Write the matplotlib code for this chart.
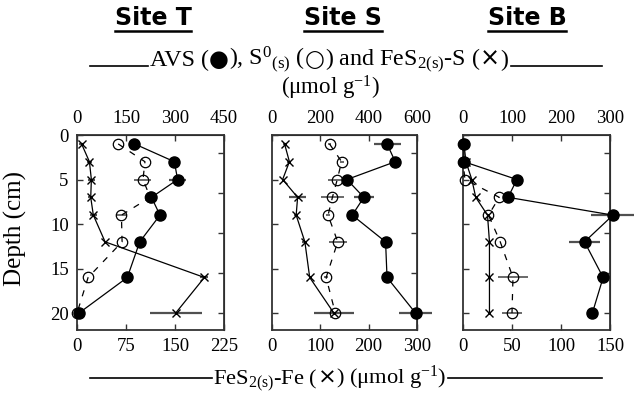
import numpy as np
import matplotlib.pyplot as plt
from matplotlib.lines import Line2D

plt.rcParams['font.family'] = ['Liberation Serif', 'DejaVu Serif']
plt.rcParams['mathtext.fontset'] = 'custom'
plt.rcParams['mathtext.rm'] = 'Liberation Serif'
plt.rcParams['mathtext.it'] = 'Liberation Serif'
plt.rcParams['mathtext.default'] = 'regular'

sites = ['Site T', 'Site S', 'Site B']
depth = [1, 3, 5, 7, 9, 12, 16, 20]

# values in FeS2-Fe units (bottom axis); top axis reads twice these
avs_t = [88, 149, 154, 114, 127, 96, 77, 3]
avs_t_err = [0, 0, 13, 6, 6, 0, 0, 0]
s0_t = [63, 104, 101, 112, 68, 69, 17, 0]
s0_t_err = [0, 0, 13, 0, 8, 0, 0, 0]
fes2_t = [7, 19, 22, 21, 25, 43, 195, 151]
fes2_t_err = [4, 4, 5, 4, 5, 0, 6, 40]

avs_s = [238, 255, 155, 190, 166, 235, 238, 297]
avs_s_err = [28, 10, 0, 21, 0, 0, 4, 35]
s0_s = [119, 144, 135, 125, 116, 136, 112, 131]
s0_s_err = [3, 4, 19, 24, 4, 19, 4, 4]
fes2_s = [26, 36, 22, 53, 50, 68, 78, 128]
fes2_s_err = [4, 4, 0, 17, 4, 5, 0, 41]

avs_b = [1, 1, 55, 46, 153, 124, 143, 132]
avs_b_err = [0, 0, 0, 0, 22, 16, 6, 0]
s0_b = [0, 0, 2, 37, 26, 38, 51, 50]
s0_b_err = [0, 0, 0, 0, 0, 0, 15, 10]
fes2_b = [1, 3, 9, 13, 25, 27, 27, 27]
fes2_b_err = [0, 0, 0, 0, 0, 0, 0, 0]

bottom_ticks = [[0, 75, 150, 225], [0, 100, 200, 300], [0, 50, 100, 150]]
top_ticks = [[0, 150, 300, 450], [0, 200, 400, 600], [0, 100, 200, 300]]
depth_ticks = [0, 5, 10, 15, 20]
right_ticks = [2, 6.5, 11, 15.5, 20]

panels = [
    (avs_t, avs_t_err, s0_t, s0_t_err, fes2_t, fes2_t_err),
    (avs_s, avs_s_err, s0_s, s0_s_err, fes2_s, fes2_s_err),
    (avs_b, avs_b_err, s0_b, s0_b_err, fes2_b, fes2_b_err),
]

W, H = 634, 395
fig = plt.figure(figsize=(W / 100, H / 100), dpi=100)

lefts = [77, 272, 463]
widths = [147, 145, 147]
ax_top, ax_bot = 135, 330
title_x = [153, 343, 527]
ecol = '#505050'
fs = 13.5

titles = []
for i, (avs, avs_e, s0, s0_e, fes2, fes2_e) in enumerate(panels):
    ax = fig.add_axes([lefts[i] / W, 1 - ax_bot / H, widths[i] / W, (ax_bot - ax_top) / H])
    ax.errorbar(avs, depth, xerr=avs_e, fmt='none', ecolor=ecol, elinewidth=1.6, zorder=2, clip_on=False)
    ax.errorbar(s0, depth, xerr=s0_e, fmt='none', ecolor=ecol, elinewidth=1.2, zorder=2, clip_on=False)
    ax.errorbar(fes2, depth, xerr=fes2_e, fmt='none', ecolor=ecol, elinewidth=1.6, zorder=2, clip_on=False)
    ax.plot(avs, depth, '-', color='black', lw=0.9, marker='o', ms=8, mfc='black', mec='black',
            zorder=4, clip_on=False)
    ax.plot(s0, depth, color='black', lw=0.9, ls=(0, (5, 6)), marker='o', ms=7.5, mfc='none',
            mec='black', mew=0.9, zorder=3, clip_on=False)
    ax.plot(fes2, depth, '-', color='black', lw=0.9, marker='x', ms=6, mec='black', mew=1,
            zorder=3, clip_on=False)

    ax.set_xlim(0, bottom_ticks[i][-1])
    ax.set_ylim(21.9, 0)
    ax.set_xticks(bottom_ticks[i])
    ax.set_yticks(depth_ticks)
    ax.tick_params(direction='in', length=4, width=1, labelsize=fs, pad=6, colors='#333333',
                   labelcolor='black')
    if i > 0:
        ax.set_yticklabels([])
    for sp in ax.spines.values():
        sp.set_color('#333333')
        sp.set_linewidth(1.3)

    sec = ax.secondary_xaxis('top', functions=(lambda x: 2 * x, lambda x: x / 2))
    sec.set_xticks(top_ticks[i])
    sec.tick_params(direction='in', length=4, width=1, labelsize=fs, pad=6, colors='#333333',
                    labelcolor='black')
    secr = ax.secondary_yaxis('right')
    secr.set_yticks(right_ticks)
    secr.tick_params(direction='in', length=4, width=1, labelright=False, colors='#333333')

    t = fig.text(title_x[i] / W, 1 - 18 / H, sites[i], ha='center', va='center',
                 family='DejaVu Sans', weight='bold', fontsize=17)
    titles.append(t)

renderer = fig.canvas.get_renderer()


def place_pieces(pieces, x_center, y_base, size):
    # lay out text pieces side by side, then shift so the run is centred
    arts = []
    x = 0
    for s, fam, k in pieces:
        a = fig.text(x / W, 1 - y_base / H, s, ha='left', va='baseline',
                     family=fam, fontsize=size * k)
        bb = a.get_window_extent(renderer)
        arts.append((a, x))
        x += bb.width
    x0 = x_center - x / 2
    for a, off in arts:
        a.set_x((x0 + off) / W)
    return x0, x0 + x


serif = ['Liberation Serif', 'DejaVu Serif']
sym = ['DejaVu Sans']
row2 = [('AVS (', serif, 1), ('●', sym, 0.95), ('), S$^{0}{}_{(s)}$ (', serif, 1),
        ('○', sym, 0.95), (') and FeS$_{2(s)}$-S (', serif, 1), ('×', sym, 1.0), (')', serif, 1)]
row_bot = [('FeS$_{2(s)}$-Fe (', serif, 1), ('×', sym, 1.0), (') (μmol g$^{-1}$)', serif, 1)]

x0, x1 = place_pieces(row2, 329, 66, 17.3)
fig.add_artist(Line2D([90 / W, (x0 - 2) / W], [1 - 66 / H] * 2, color='black', lw=1.2))
fig.add_artist(Line2D([(x1 + 3) / W, 602 / W], [1 - 66 / H] * 2, color='black', lw=1.2))

fig.text(331 / W, 1 - 88 / H, r'(μmol g$^{-1}$)', ha='center', va='center', fontsize=16.5)

x0, x1 = place_pieces(row_bot, 330, 384, 16.2)
fig.add_artist(Line2D([90 / W, (x0 - 1) / W], [1 - 378 / H] * 2, color='black', lw=1.2))
fig.add_artist(Line2D([(x1 + 1) / W, 602 / W], [1 - 378 / H] * 2, color='black', lw=1.2))

fig.text(15 / W, 1 - 228 / H, 'Depth (cm)', rotation=90, ha='center', va='center', fontsize=18)

for t in titles:
    bb = t.get_window_extent(renderer)
    y = (bb.y0 - 1) / H
    fig.add_artist(Line2D([bb.x0 / W, bb.x1 / W], [y, y], color='black', lw=1.8))

fig.savefig('out.png', dpi=100)
